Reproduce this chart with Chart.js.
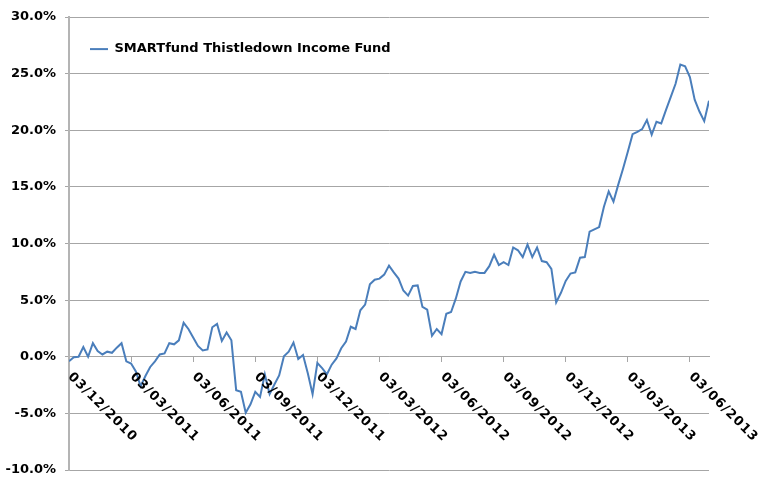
<!DOCTYPE html>
<html>
<head>
<meta charset="utf-8">
<script src="https://cdn.jsdelivr.net/npm/chart.js@4.4.0/dist/chart.umd.min.js"></script>
<style>
  body { margin: 0; background: #fff; }
  #wrap { width: 758px; height: 477px; }
</style>
</head>
<body>
<div id="wrap"><canvas id="fundChart" width="758" height="477"></canvas></div>
<script>
// Weekly cumulative return, in percent
const seriesName = 'SMARTfund Thistledown Income Fund';
const fundReturn = [
  -0.4, -0.05, 0.0, 0.85, 0.0, 1.2, 0.5, 0.2, 0.45, 0.35,
  0.8, 1.2, -0.4, -0.6, -1.3, -2.6, -1.7, -0.9, -0.4, 0.2,
  0.3, 1.2, 1.1, 1.45, 3.0, 2.45, 1.7, 0.95, 0.55, 0.65,
  2.6, 2.9, 1.4, 2.15, 1.45, -2.95, -3.1, -4.95, -4.2, -3.1,
  -3.55, -1.55, -3.3, -2.45, -1.65, 0.05, 0.45, 1.25, -0.2, 0.15,
  -1.45, -3.3, -0.55, -1.0, -1.55, -0.7, -0.15, 0.75, 1.35, 2.65,
  2.45, 4.1, 4.6, 6.4, 6.8, 6.9, 7.25, 8.05, 7.45, 6.9,
  5.85, 5.4, 6.25, 6.3, 4.4, 4.15, 1.85, 2.45, 2.0, 3.8,
  3.95, 5.15, 6.65, 7.5, 7.4, 7.5, 7.4, 7.4, 8.0, 9.0,
  8.1, 8.35, 8.1, 9.65, 9.4, 8.8, 9.9, 8.8, 9.65, 8.45,
  8.35, 7.75, 4.8, 5.65, 6.7, 7.35, 7.45, 8.75, 8.8, 11.05,
  11.25, 11.45, 13.25, 14.6, 13.7, 15.2, 16.6, 18.1, 19.65, 19.85,
  20.1, 20.9, 19.6, 20.75, 20.6, 21.8, 22.95, 24.1, 25.8, 25.65,
  24.7, 22.7, 21.65, 20.8, 22.6
];
// one date label every 13 weeks
const tickLabels = [
  '03/12/2010', '03/03/2011', '03/06/2011', '03/09/2011', '03/12/2011',
  '03/03/2012', '03/06/2012', '03/09/2012', '03/12/2012', '03/03/2013', '03/06/2013'
];
const weeksPerTick = 13;
const yMin = -10, yMax = 30, yStep = 5;

const FONT = "'DejaVu Sans', Verdana, sans-serif";
const gridGrey = '#a6a6a6';

// rotated date labels hanging under the zero line
const dateLabels = {
  id: 'dateLabels',
  afterDraw(chart) {
    const ctx = chart.ctx;
    const xs = chart.scales.x, ys = chart.scales.y;
    const y0 = ys.getPixelForValue(0);
    ctx.save();
    ctx.font = 'bold 13px ' + FONT;
    ctx.letterSpacing = '1px';
    ctx.fillStyle = '#000';
    ctx.textAlign = 'left';
    ctx.textBaseline = 'middle';
    tickLabels.forEach((lbl, i) => {
      const x = xs.getPixelForValue(i * weeksPerTick);
      ctx.save();
      ctx.translate(x + 1, y0 + 18);
      ctx.rotate(Math.PI / 4);
      ctx.fillText(lbl, 0, 0);
      ctx.restore();
    });
    ctx.restore();
  }
};

const ctx = document.getElementById('fundChart').getContext('2d');
new Chart(ctx, {
  type: 'line',
  data: {
    datasets: [{
      label: seriesName,
      data: fundReturn.map((v, i) => ({ x: i, y: v })),
      borderColor: '#4a7ebb',
      backgroundColor: '#4a7ebb',
      borderWidth: 2,
      pointRadius: 0,
      tension: 0,
      fill: false
    }]
  },
  options: {
    responsive: false,
    devicePixelRatio: 1,
    animation: false,
    layout: { padding: { left: 0, right: 49, top: 17, bottom: 7 } },
    plugins: {
      tooltip: { enabled: false },
      legend: {
        position: 'chartArea',
        align: 'start',
        title: { display: true, text: ' ', padding: { top: 0, bottom: 6 }, font: { size: 13 } },
        labels: {
          usePointStyle: true,
          pointStyle: 'line',
          pointStyleWidth: 18,
          padding: 21,
          color: '#000',
          font: { family: FONT, size: 13, weight: 'bold' }
        }
      }
    },
    scales: {
      x: {
        type: 'linear',
        position: { y: 0 },
        min: 0,
        max: fundReturn.length - 1,
        afterFit(scale) { scale.height = 0; },
        ticks: { display: false, stepSize: weeksPerTick, includeBounds: false },
        grid: { drawOnChartArea: false, drawTicks: true, tickLength: 5, color: gridGrey },
        border: { display: true, color: gridGrey, width: 1 }
      },
      y: {
        min: yMin,
        max: yMax,
        afterFit(scale) {
          scale.width = 69;
          scale.paddingTop = 0;
          scale.paddingBottom = 0;
        },
        ticks: {
          stepSize: yStep,
          padding: 9,
          color: '#000',
          font: { family: FONT, size: 13, weight: 'bold', lineHeight: 1 },
          callback: v => v.toFixed(1) + '%'
        },
        grid: { color: gridGrey, tickLength: 4 },
        border: { display: true, color: '#b4b4b4', width: 2 }
      }
    }
  },
  plugins: [dateLabels]
});
</script>
</body>
</html>
